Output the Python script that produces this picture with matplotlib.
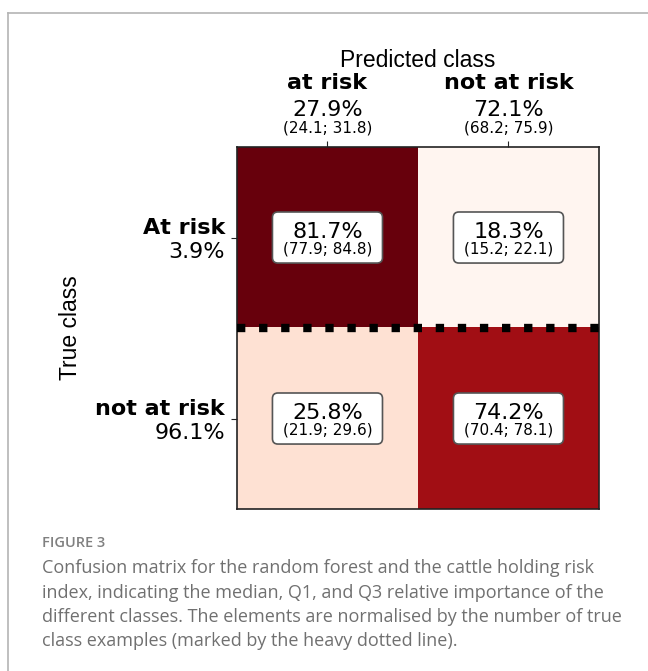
import matplotlib
matplotlib.use("Agg")
import matplotlib.pyplot as plt
import numpy as np
from matplotlib.lines import Line2D
from matplotlib.patches import FancyBboxPatch

# class names and summary numbers (median with Q1/Q3 in brackets)
PRED_CLASSES = ['at risk', 'not at risk']
TRUE_CLASSES = ['At risk', 'not at risk']

pred_share = [27.9, 72.1]
pred_q1 = [24.1, 68.2]
pred_q3 = [31.8, 75.9]

true_share = [3.9, 96.1]

cm_median = np.array([[81.7, 18.3],
                      [25.8, 74.2]])
cm_q1 = np.array([[77.9, 15.2],
                  [21.9, 70.4]])
cm_q3 = np.array([[84.8, 22.1],
                  [29.6, 78.1]])

CAPTION = [
    'Confusion matrix for the random forest and the cattle holding risk',
    'index, indicating the median, Q1, and Q3 relative importance of the',
    'different classes. The elements are normalised by the number of true',
    'class examples (marked by the heavy dotted line).',
]

fig = plt.figure(figsize=(6.48, 6.71), dpi=100)
ax = fig.add_axes([0.3657, 0.2414, 0.5586, 0.5395])

ax.imshow(cm_median, cmap='Reds', aspect='auto')

for sp in ax.spines.values():
    sp.set_linewidth(1.2)
    sp.set_color('#222222')

ax.xaxis.tick_top()
ax.set_xticks(range(len(PRED_CLASSES)))
ax.set_xticklabels([''] * len(PRED_CLASSES))
ax.set_yticks(range(len(TRUE_CLASSES)))
ax.set_yticklabels([''] * len(TRUE_CLASSES))
ax.tick_params(length=4, width=0.8, color='#222222')

# column headers above the matrix
for j, name in enumerate(PRED_CLASSES):
    kw = dict(xy=(j, 1), xycoords=('data', 'axes fraction'),
              textcoords='offset points', ha='center', va='baseline')
    ax.annotate(name, xytext=(0, 41.8), fontsize=16, fontweight='bold', **kw)
    ax.annotate(f'{pred_share[j]}%', xytext=(0, 22.3), fontsize=16, **kw)
    ax.annotate(f'({pred_q1[j]}; {pred_q3[j]})', xytext=(0, 10.8), fontsize=11, **kw)

# row headers left of the matrix
for i, name in enumerate(TRUE_CLASSES):
    kw = dict(xy=(0, i), xycoords=('axes fraction', 'data'),
              textcoords='offset points', ha='right', va='baseline')
    ax.annotate(name, xytext=(-8.6, 2.5), fontsize=16, fontweight='bold', **kw)
    ax.annotate(f'{true_share[i]}%', xytext=(-8.6, -14.6), fontsize=16, **kw)

ax.annotate('Predicted class', xy=(0.5, 1), xycoords='axes fraction',
            xytext=(0, 57.6), textcoords='offset points', ha='center',
            va='baseline', fontsize=16.5, family='Liberation Sans')
ax.text(-0.459, 0.5, 'True class', transform=ax.transAxes, rotation=90,
        ha='center', va='center', fontsize=16.5, family='Liberation Sans')

# heavy dotted line between the true classes
ax.axhline(0.5, color='black', lw=6, ls=':', zorder=3)

# value boxes in each cell
bw, bh = 0.608, 0.282
for i in range(cm_median.shape[0]):
    for j in range(cm_median.shape[1]):
        box = FancyBboxPatch((j - bw / 2, i - bh / 2), bw, bh,
                             boxstyle='round,pad=0,rounding_size=0.03',
                             fc='white', ec='#555555', lw=1.2, zorder=4)
        ax.add_patch(box)
        ax.annotate(f'{cm_median[i, j]}%', xy=(j, i), xytext=(0, 0),
                    textcoords='offset points', ha='center', va='baseline',
                    fontsize=16, zorder=5)
        ax.annotate(f'({cm_q1[i, j]}; {cm_q3[i, j]})', xy=(j, i),
                    xytext=(0, -11.2), textcoords='offset points',
                    ha='center', va='baseline', fontsize=11, zorder=5)

ax.set_xlim(-0.5, 1.5)
ax.set_ylim(1.5, -0.5)

# page frame and caption
fig.add_artist(Line2D([8 / 648, 1], [1 - 13 / 671] * 2, color='#b4b4b4', lw=1.2))
fig.add_artist(Line2D([8 / 648] * 2, [0, 1 - 13 / 671], color='#b4b4b4', lw=1.2))

fig.text(42 / 648, 1 - 543 / 671, 'FIGURE 3', fontsize=10.5, fontweight='semibold',
         color='#808080', family='Open Sans', va='center')
for k, line in enumerate(CAPTION):
    fig.text(42 / 648, 1 - (568 + 24.5 * k) / 671, line, fontsize=13,
             color='#707070', family='Open Sans', va='center')

fig.savefig('out.png', dpi=100)
